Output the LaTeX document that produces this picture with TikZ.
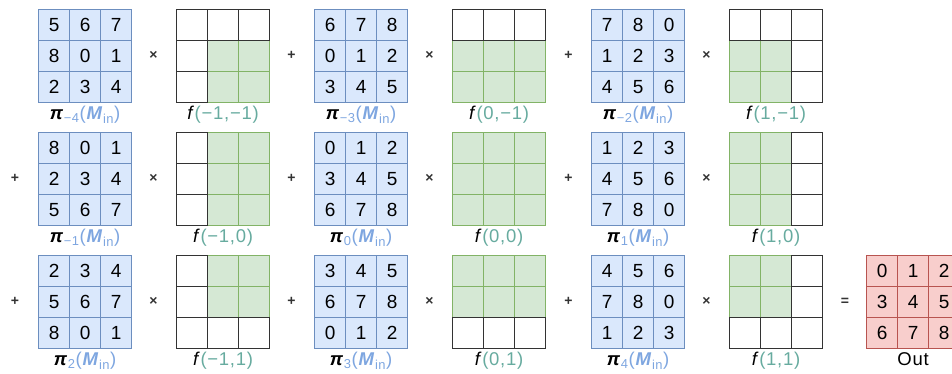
\documentclass[tikz,border=0pt]{standalone}
\usepackage{fontspec}
\setmainfont{Liberation Sans}
\usetikzlibrary{positioning}
\definecolor{bfill}{HTML}{DAE8FC}
\definecolor{bdraw}{HTML}{6C8EBF}
\definecolor{gfill}{HTML}{D5E8D4}
\definecolor{gdraw}{HTML}{82B366}
\definecolor{rfill}{HTML}{F8CECC}
\definecolor{rdraw}{HTML}{B85450}
\definecolor{lblue}{HTML}{7EA6E0}
\definecolor{lteal}{HTML}{67AB9F}
\tikzset{
  cellbase/.style={minimum size=31pt, inner sep=0pt, anchor=north west, line width=1.1pt, font=\fontsize{19}{21}\selectfont},
  bcell/.style={cellbase, fill=bfill, draw=bdraw},
  gcell/.style={cellbase, fill=gfill, draw=gdraw},
  wcell/.style={cellbase, fill=white, draw=black!80},
  rcell/.style={cellbase, fill=rfill, draw=rdraw},
  lab/.style={font=\fontsize{18.5}{21}\selectfont\addfontfeature{LetterSpace=4}, inner sep=0pt},
  op/.style={font=\fontsize{14}{16}\selectfont\bfseries, inner sep=0pt, text=black!80},
}
\newcommand\bgrid[4]{%
  \foreach \r in {0,1,2}{\foreach \c in {0,1,2}{%
    \pgfmathtruncatemacro\v{mod(3*\r+\c+#4+18,9)}%
    \node[bcell] (#1-\r\c) at ({#2+31*\c},{#3+31*\r}) {\v};}}}
\newcommand\rgrid[3]{%
  \foreach \r in {0,1,2}{\foreach \c in {0,1,2}{%
    \pgfmathtruncatemacro\v{3*\r+\c}%
    \node[rcell] (#1-\r\c) at ({#2+31*\c},{#3+31*\r}) {\v};}}}
\newcommand\fgrid[5]{%
  \foreach \r in {0,1,2}{\foreach \c in {0,1,2}{%
    \pgfmathtruncatemacro\w{((#4==-1)&&(\c==0))||((#4==1)&&(\c==2))||((#5==-1)&&(\r==0))||((#5==1)&&(\r==2))}%
    \ifnum\w=0 \node[gcell] (#1-\r\c) at ({#2+31*\c},{#3+31*\r}) {};\fi}}%
  \foreach \r in {0,1,2}{\foreach \c in {0,1,2}{%
    \pgfmathtruncatemacro\w{((#4==-1)&&(\c==0))||((#4==1)&&(\c==2))||((#5==-1)&&(\r==0))||((#5==1)&&(\r==2))}%
    \ifnum\w=1 \node[wcell] (#1-\r\c) at ({#2+31*\c},{#3+31*\r}) {};\fi}}}
\newcommand\plab[2]{\textbf{\textit{π}}\textcolor{lblue}{\textsubscript{#2}(\textbf{\textit{M}}\textsubscript{in})}}
\newcommand\flab[1]{\textit{f}\textcolor{lteal}{(#1)}}
\begin{document}
\begin{tikzpicture}[x=1pt,y=-1pt]
\useasboundingbox (0,0) rectangle (952,374);
% row 1
\bgrid{b1}{38}{9}{-4}
\fgrid{f1}{176}{9}{-1}{-1}
\bgrid{b2}{314}{9}{-3}
\fgrid{f2}{452}{9}{0}{-1}
\bgrid{b3}{591}{9}{-2}
\fgrid{f3}{729}{9}{1}{-1}
% row 2
\bgrid{b4}{38}{132}{-1}
\fgrid{f4}{176}{132}{-1}{0}
\bgrid{b5}{314}{132}{0}
\fgrid{f5}{452}{132}{0}{0}
\bgrid{b6}{591}{132}{1}
\fgrid{f6}{729}{132}{1}{0}
% row 3
\bgrid{b7}{38}{255}{2}
\fgrid{f7}{176}{255}{-1}{1}
\bgrid{b8}{314}{255}{3}
\fgrid{f8}{452}{255}{0}{1}
\bgrid{b9}{591}{255}{4}
\fgrid{f9}{729}{255}{1}{1}
\rgrid{out}{866}{255}
% labels
\node[lab, below=3pt of b1-21.south] (l1) {\plab{b1}{−4}};
\node[lab, below=3pt of b2-21.south] (l2) {\plab{b2}{−3}};
\node[lab, below=3pt of b3-21.south] (l3) {\plab{b3}{−2}};
\node[lab, below=3pt of b4-21.south] (l4) {\plab{b4}{−1}};
\node[lab, below=3pt of b5-21.south] (l5) {\plab{b5}{0}};
\node[lab, below=3pt of b6-21.south] (l6) {\plab{b6}{1}};
\node[lab, below=3pt of b7-21.south] (l7) {\plab{b7}{2}};
\node[lab, below=3pt of b8-21.south] (l8) {\plab{b8}{3}};
\node[lab, below=3pt of b9-21.south] (l9) {\plab{b9}{4}};
\node[lab, below=3pt of f1-21.south] (g1) {\flab{−1,−1}};
\node[lab, below=3pt of f2-21.south] (g2) {\flab{0,−1}};
\node[lab, below=3pt of f3-21.south] (g3) {\flab{1,−1}};
\node[lab, below=3pt of f4-21.south] (g4) {\flab{−1,0}};
\node[lab, below=3pt of f5-21.south] (g5) {\flab{0,0}};
\node[lab, below=3pt of f6-21.south] (g6) {\flab{1,0}};
\node[lab, below=3pt of f7-21.south] (g7) {\flab{−1,1}};
\node[lab, below=3pt of f8-21.south] (g8) {\flab{0,1}};
\node[lab, below=3pt of f9-21.south] (g9) {\flab{1,1}};
\node[lab, below=3pt of out-21.south] (lout) {Out};
% operators
\foreach \y/\n in {55.5/1,178.5/2,301.5/3}{
  \node[op] (x\n a) at (153.5,\y) {×};
  \node[op] (p\n a) at (291.5,\y) {+};
  \node[op] (x\n b) at (429.5,\y) {×};
  \node[op] (p\n b) at (568.5,\y) {+};
  \node[op] (x\n c) at (706.5,\y) {×};
}
\node[op] (p2z) at (15,178.5) {+};
\node[op] (p3z) at (15,301.5) {+};
\node[op] (eq) at (845,301.5) {=};
\end{tikzpicture}
\end{document}
